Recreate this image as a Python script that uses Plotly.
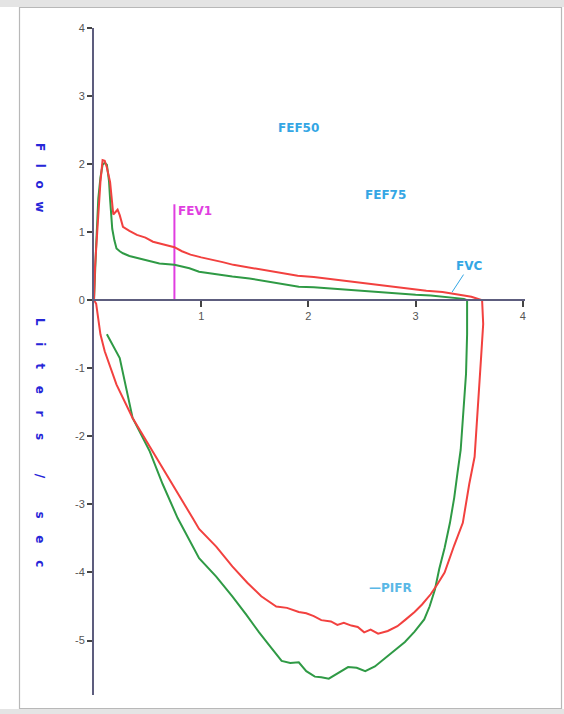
import plotly.graph_objects as go

# ---------------- data (volume in litres, flow in litres/sec) ----------------
red_exp_vol = [0, 0.01, 0.03, 0.06, 0.08, 0.10, 0.12, 0.15, 0.18, 0.20, 0.22, 0.24, 0.27,
               0.33, 0.40, 0.48, 0.55, 0.65, 0.75, 0.82, 0.90, 1.00, 1.10, 1.20, 1.30,
               1.45, 1.60, 1.75, 1.90, 2.05, 2.20, 2.35, 2.50, 2.65, 2.80, 2.95, 3.10,
               3.25, 3.35, 3.45, 3.52, 3.58, 3.62]
red_exp_flow = [0, 0.5, 1.0, 1.74, 2.06, 2.05, 1.95, 1.74, 1.26, 1.30, 1.33, 1.25, 1.08,
                1.02, 0.96, 0.92, 0.86, 0.82, 0.78, 0.72, 0.67, 0.63, 0.60, 0.56, 0.52,
                0.48, 0.45, 0.41, 0.36, 0.34, 0.31, 0.28, 0.25, 0.23, 0.20, 0.17, 0.14,
                0.12, 0.10, 0.07, 0.05, 0.02, 0.0]

red_insp_vol = [3.62, 3.63, 3.61, 3.59, 3.57, 3.55, 3.50, 3.44, 3.36, 3.27, 3.20, 3.14,
                3.06, 2.99, 2.90, 2.83, 2.74, 2.65, 2.58, 2.52, 2.46, 2.40, 2.33, 2.27,
                2.21, 2.12, 2.05, 1.98, 1.91, 1.80, 1.70, 1.56, 1.43, 1.29, 1.14, 0.98,
                0.92, 0.73, 0.55, 0.36, 0.21, 0.10, 0.06, 0.04, 0.02, 0]
red_insp_flow = [0, -0.35, -0.85, -1.33, -1.80, -2.30, -2.70, -3.27, -3.60, -4.00, -4.18,
                 -4.32, -4.47, -4.58, -4.70, -4.79, -4.86, -4.90, -4.84, -4.88, -4.80,
                 -4.78, -4.74, -4.77, -4.72, -4.70, -4.64, -4.60, -4.58, -4.52, -4.50,
                 -4.35, -4.15, -3.91, -3.62, -3.36, -3.20, -2.70, -2.22, -1.73, -1.24,
                 -0.75, -0.50, -0.25, -0.05, 0]

green_exp_vol = [0, 0.01, 0.02, 0.04, 0.06, 0.08, 0.10, 0.12, 0.14, 0.15, 0.17, 0.19, 0.21,
                 0.24, 0.27, 0.33, 0.43, 0.52, 0.61, 0.75, 0.89, 0.98, 1.10, 1.29, 1.45,
                 1.60, 1.75, 1.91, 2.05, 2.21, 2.37, 2.53, 2.68, 2.83, 3.00, 3.14, 3.28,
                 3.38, 3.45, 3.48]
green_exp_flow = [0, 0.3, 0.8, 1.49, 1.80, 1.99, 2.02, 1.99, 1.75, 1.49, 1.05, 0.88, 0.76,
                  0.72, 0.69, 0.65, 0.61, 0.57, 0.54, 0.52, 0.47, 0.42, 0.39, 0.35, 0.32,
                  0.28, 0.24, 0.20, 0.19, 0.17, 0.15, 0.14, 0.12, 0.10, 0.08, 0.07, 0.05,
                  0.04, 0.02, 0]

green_insp_vol = [3.48, 3.48, 3.47, 3.44, 3.42, 3.39, 3.36, 3.32, 3.27, 3.22, 3.18, 3.13,
                  3.08, 2.99, 2.90, 2.80, 2.71, 2.62, 2.53, 2.45, 2.37, 2.28, 2.19, 2.12,
                  2.06, 1.98, 1.91, 1.83, 1.75, 1.65, 1.54, 1.42, 1.29, 1.14, 0.98, 0.78,
                  0.64, 0.52, 0.36, 0.24, 0.17, 0.12]
green_insp_flow = [0, -0.50, -1.08, -1.81, -2.20, -2.54, -2.90, -3.27, -3.64, -3.95, -4.25,
                   -4.50, -4.69, -4.87, -5.02, -5.15, -5.27, -5.38, -5.45, -5.40, -5.39,
                   -5.48, -5.56, -5.54, -5.53, -5.45, -5.32, -5.33, -5.30, -5.10, -4.88,
                   -4.62, -4.35, -4.06, -3.79, -3.20, -2.70, -2.22, -1.73, -0.85, -0.65,
                   -0.50]

fev1_vol = [0.75, 0.75]
fev1_flow = [0.0, 1.41]

x_ticks = [1, 2, 3, 4]
y_ticks = [-5, -4, -3, -2, -1, 0, 1, 2, 3, 4]

# ---------------- figure ----------------
RED = "#f2413f"
GREEN = "#2f9a45"
MAGENTA = "#e03ee0"
LBLUE = "#34a6e4"
AXIS = "#5d5d7e"

fig = go.Figure()
fig.add_trace(go.Scatter(x=fev1_vol, y=fev1_flow, mode="lines",
                         line=dict(color=MAGENTA, width=2), hoverinfo="skip"))
for xs, ys, col in [(green_exp_vol, green_exp_flow, GREEN),
                    (green_insp_vol, green_insp_flow, GREEN),
                    (red_exp_vol, red_exp_flow, RED),
                    (red_insp_vol, red_insp_flow, RED)]:
    fig.add_trace(go.Scatter(x=xs, y=ys, mode="lines",
                             line=dict(color=col, width=2)))

W, H = 564, 714
L, R, T, B = 94, 39, 28, 19
pw, ph = W - L - R, H - T - B


def px(xp):
    return (xp - L) / pw


def py(yp):
    return (H - B - yp) / ph


ymin, ymax = -5.8, 4.0

shapes = [
    dict(type="rect", xref="paper", yref="paper", x0=px(0), x1=px(W), y0=py(7), y1=py(0),
         fillcolor="#e4e4e4", line=dict(width=0), layer="below"),
    dict(type="rect", xref="paper", yref="paper", x0=px(0), x1=px(W), y0=py(W * 10), y1=py(709),
         fillcolor="#e4e4e4", line=dict(width=0), layer="below"),
    dict(type="rect", xref="paper", yref="paper", x0=px(19.5), x1=px(561.5), y0=py(708.5), y1=py(7.5),
         fillcolor="rgba(0,0,0,0)", line=dict(color="#b8b8b8", width=1.2), layer="below"),
]

lab_font = dict(family="DejaVu Sans", size=12, color=LBLUE, weight="bold")
sp = "\u00a0" * 3
sp2 = "\u00a0" * 4
annotations = [
    dict(x=px(40), y=py(177), xref="paper", yref="paper", showarrow=False, textangle=90,
         xanchor="center", yanchor="middle",
         text=sp.join(list("Flow")),
         font=dict(family="DejaVu Sans", size=12, color="#2626d8", weight="bold")),
    dict(x=px(40), y=py(442), xref="paper", yref="paper", showarrow=False, textangle=90,
         xanchor="center", yanchor="middle",
         text=sp2.join(["L", "i", "t", "e", "r", "s", "", "/", "", "s", "e", "c"]),
         font=dict(family="DejaVu Sans", size=12, color="#2626d8", weight="bold")),
    dict(x=1.91, y=2.53, text="FEF50", showarrow=False, font=lab_font),
    dict(x=2.72, y=1.55, text="FEF75", showarrow=False, font=lab_font),
    dict(x=0.765, y=1.31, text="FEV1", showarrow=False, xanchor="left",
         font=dict(family="DejaVu Sans", size=12, color=MAGENTA, weight="bold")),
    dict(x=3.34, y=0.12, ax=17, ay=-26, text="FVC", showarrow=True, arrowhead=0,
         arrowwidth=1, arrowcolor=LBLUE, font=lab_font),
    dict(x=2.77, y=-4.23, text="\u2014PIFR", showarrow=False,
         font=dict(family="DejaVu Sans", size=12, color="#5ab8e6", weight="bold")),
]

fig.update_layout(
    width=W, height=H,
    margin=dict(l=L, r=R, t=T, b=B, pad=0),
    paper_bgcolor="white", plot_bgcolor="white",
    showlegend=False,
    shapes=shapes,
    annotations=annotations,
    xaxis=dict(range=[0, 4.02], anchor="free", position=(0 - ymin) / (ymax - ymin),
               showline=True, linecolor=AXIS, linewidth=2, showgrid=False, zeroline=False,
               tickvals=x_ticks, ticktext=[str(v) for v in x_ticks],
               ticks="outside", ticklen=6, tickwidth=2, tickcolor="#444",
               tickfont=dict(family="Liberation Sans", size=11, color="#555555")),
    yaxis=dict(range=[ymin, ymax], showline=True, linecolor=AXIS, linewidth=2,
               showgrid=False, zeroline=False,
               tickvals=y_ticks, ticktext=[str(v) for v in y_ticks],
               ticks="outside", ticklen=5, tickwidth=2, tickcolor="#444",
               tickfont=dict(family="Liberation Sans", size=11, color="#555555")),
)

fig.write_html("out.html")
